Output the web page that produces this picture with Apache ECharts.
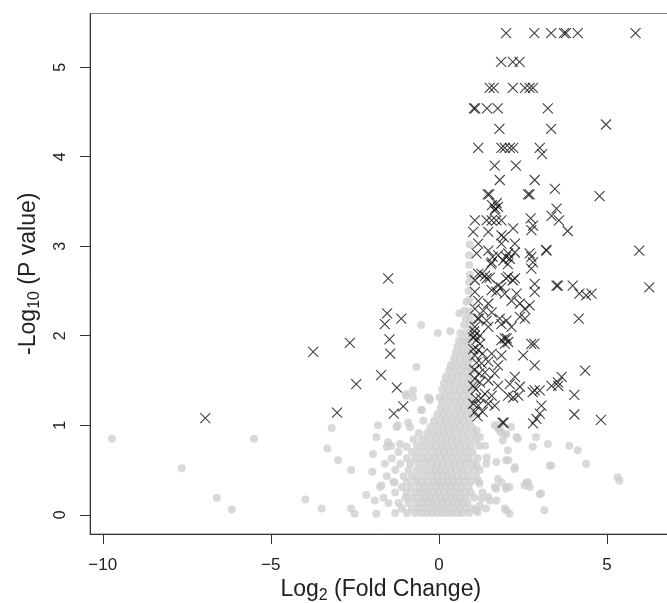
<!DOCTYPE html>
<html><head><meta charset="utf-8">
<script src="https://cdn.jsdelivr.net/npm/echarts@6/dist/echarts.min.js"></script>
<style>html,body{margin:0;padding:0;background:#fff}#c{width:667px;height:603px}</style>
</head><body><div id="c"></div>
<script>
const xTicks = [-10, -5, 0, 5];
const yTicks = [0, 1, 2, 3, 4, 5];
const xRange = [-10.38, 6.92];
const yRange = [-0.215, 5.6];

// not significant genes (grey dots): [log2FC, -log10 p]
const grayPoints = [
[-9.73,0.85],[-7.65,0.52],[-6.61,0.19],[-6.16,0.06],[-5.5,0.85],[-3.97,0.17],[-3.49,0.07],[-3.32,0.74],[-3.19,0.97],[-3.0,0.61],[-2.61,0.5],[-2.61,0.07],[-2.51,0.01],[-2.16,0.22],[-1.96,0.68],[-1.98,0.48],[-1.91,0.16],[-1.86,0.01],[-1.86,0.87],[-1.81,1.0],[-1.71,0.33],[-1.61,0.57],[-1.42,0.77],[-1.32,0.36],[-1.22,1.0],[-0.92,1.03],[-0.77,1.39],[-0.98,1.33],[-0.67,1.65],[-0.53,1.17],[-0.53,2.12],[-0.28,1.30],[0.02,1.31],[-0.03,2.03],[0.34,2.05],[0.61,2.25],[0.76,2.28],
[2.0,0.61],[2.25,0.51],[2.65,0.36],[2.7,0.31],[3.04,0.24],[2.0,0.29],[2.1,0.31],[1.7,0.29],[1.46,0.2],[2.0,0.05],[2.1,0.01],[3.14,0.05],[1.11,0.05],[1.21,0.10],[3.34,0.55],[4.38,0.57],[3.88,0.77],[4.13,0.72],[3.24,0.79],[2.79,0.76],[2.89,0.87],[2.35,0.85],[2.05,0.72],[1.9,0.83],[1.85,0.92],[2.0,0.9],[1.8,1.0],[2.15,0.98],[5.32,0.42],[5.37,0.38],[1.21,0.35],[1.41,0.57],[2.55,0.33],[1.75,0.97],
[2.31,0.87],[2.06,0.61],[2.26,0.53],[3.3,0.55],[2.61,0.36],[3.0,0.23],[1.96,0.07],[1.71,0.16],[2.01,0.31],[1.66,1.0],[1.96,0.9],[1.81,0.94],[1.22,0.87],
[-1.3,0.02],[-0.95,0.02],[-0.7,0.02],[-0.5,0.02],[-0.35,0.02],[-0.2,0.02],[-0.05,0.02],[0.1,0.02],[0.25,0.02],[0.4,0.02],[0.55,0.02],[0.7,0.02],[0.9,0.02],[1.15,0.03],
[-1.1,0.07],[-0.8,0.07],[-0.6,0.07],[-0.42,0.07],[-0.28,0.07],[-0.12,0.07],[0.02,0.07],[0.18,0.07],[0.33,0.07],[0.48,0.07],[0.62,0.07],[0.8,0.07],[1.0,0.07],[1.4,0.07],
[-1.5,0.13],[-1.2,0.13],[-0.9,0.13],[-0.65,0.13],[-0.5,0.13],[-0.35,0.13],[-0.2,0.13],[-0.05,0.13],[0.1,0.13],[0.25,0.13],[0.4,0.13],[0.55,0.13],[0.7,0.13],[0.85,0.13],[1.27,0.18],
[-1.65,0.19],[-1.0,0.19],[-0.78,0.19],[-0.55,0.19],[-0.4,0.19],[-0.25,0.19],[-0.1,0.19],[0.05,0.19],[0.2,0.19],[0.35,0.19],[0.5,0.19],[0.65,0.19],[0.8,0.19],[1.05,0.19],[1.52,0.16],
[-1.3,0.25],[-0.95,0.25],[-0.7,0.25],[-0.52,0.25],[-0.35,0.25],[-0.18,0.25],[-0.02,0.25],[0.15,0.25],[0.3,0.25],[0.45,0.25],[0.6,0.25],[0.78,0.25],[0.95,0.25],[1.3,0.25],
[-1.75,0.31],[-1.1,0.31],[-0.85,0.31],[-0.6,0.31],[-0.45,0.31],[-0.28,0.31],[-0.1,0.31],[0.05,0.31],[0.2,0.31],[0.35,0.31],[0.52,0.31],[0.68,0.31],[0.88,0.31],[1.66,0.31],
[-1.35,0.37],[-0.95,0.37],[-0.7,0.37],[-0.5,0.37],[-0.32,0.37],[-0.15,0.37],[0.0,0.37],[0.12,0.37],[0.28,0.37],[0.42,0.37],[0.58,0.37],[0.75,0.37],[0.95,0.37],[1.17,0.38],[1.76,0.40],[1.86,0.36],
[-1.55,0.43],[-1.05,0.43],[-0.8,0.43],[-0.6,0.43],[-0.38,0.43],[-0.2,0.43],[-0.05,0.43],[0.1,0.43],[0.25,0.43],[0.4,0.43],[0.55,0.43],[0.72,0.43],[0.9,0.43],[1.1,0.43],
[-1.3,0.5],[-0.9,0.5],[-0.65,0.5],[-0.45,0.5],[-0.25,0.5],[-0.1,0.5],[0.05,0.5],[0.2,0.5],[0.35,0.5],[0.5,0.5],[0.68,0.5],[0.85,0.5],[1.05,0.5],[1.22,0.5],
[-1.15,0.57],[-0.85,0.57],[-0.6,0.57],[-0.4,0.57],[-0.22,0.57],[-0.05,0.57],[0.12,0.57],[0.3,0.57],[0.45,0.57],[0.62,0.57],[0.8,0.57],[1.0,0.57],[1.12,0.55],[1.71,0.59],
[-1.4,0.63],[-0.95,0.63],[-0.7,0.63],[-0.5,0.63],[-0.3,0.63],[-0.12,0.63],[0.05,0.63],[0.2,0.63],[0.38,0.63],[0.55,0.63],[0.72,0.63],[0.9,0.63],[1.15,0.63],[1.42,0.64],
[-1.2,0.7],[-0.8,0.7],[-0.6,0.7],[-0.4,0.7],[-0.2,0.7],[-0.02,0.7],[0.15,0.7],[0.3,0.7],[0.48,0.7],[0.65,0.7],[0.82,0.7],[1.0,0.7],
[-0.96,0.76],[-0.65,0.77],[-0.45,0.77],[-0.25,0.77],[-0.08,0.77],[0.1,0.77],[0.25,0.77],[0.42,0.77],[0.6,0.77],[0.78,0.77],[0.95,0.77],[1.2,0.77],[1.37,0.77],[-1.16,0.79],[-1.51,0.81],[-1.55,0.76],
[-0.75,0.84],[-0.5,0.84],[-0.3,0.84],[-0.1,0.84],[0.05,0.84],[0.22,0.84],[0.38,0.84],[0.55,0.84],[0.72,0.84],[0.9,0.84],[1.1,0.84],
[-0.6,0.91],[-0.35,0.91],[-0.18,0.91],[0.0,0.91],[0.15,0.91],[0.32,0.91],[0.5,0.91],[0.68,0.91],[0.85,0.91],[1.05,0.91],[1.12,0.94],[-1.26,0.98],[-0.86,0.98],
[-0.25,0.98],[-0.05,0.98],[0.12,0.98],[0.28,0.98],[0.45,0.98],[0.62,0.98],[0.8,0.98],[0.98,0.98],[-0.46,1.05],
[-0.15,1.05],[0.05,1.05],[0.2,1.05],[0.38,1.05],[0.55,1.05],[0.72,1.05],[0.9,1.05],
[-0.05,1.12],[0.12,1.12],[0.3,1.12],[0.48,1.12],[0.65,1.12],[0.82,1.12],[0.98,1.12],[-0.51,1.17],
[0.05,1.19],[0.22,1.19],[0.4,1.19],[0.58,1.19],[0.75,1.19],[0.92,1.19],
[-0.27,1.28],[0.1,1.26],[0.3,1.26],[0.48,1.26],[0.65,1.26],[0.82,1.26],[0.98,1.26],
[-0.32,1.31],[0.18,1.33],[0.35,1.33],[0.55,1.33],[0.72,1.33],[0.9,1.33],[-0.77,1.31],[-0.96,1.35],
[0.1,1.40],[0.28,1.40],[0.45,1.40],[0.62,1.40],[0.8,1.40],[0.95,1.40],
[0.15,1.47],[0.32,1.47],[0.5,1.47],[0.68,1.47],[0.85,1.47],[0.98,1.5],
[0.2,1.54],[0.38,1.54],[0.55,1.54],[0.72,1.54],[0.9,1.54],
[0.3,1.61],[0.48,1.61],[0.65,1.61],[0.82,1.61],[0.98,1.61],
[0.35,1.67],[0.52,1.67],[0.7,1.67],[0.88,1.67],
[0.45,1.74],[0.62,1.74],[0.8,1.74],[0.95,1.74],
[0.5,1.81],[0.68,1.81],[0.85,1.81],[0.98,1.84],
[0.55,1.88],[0.72,1.88],[0.9,1.88],
[0.6,1.95],[0.74,1.95],[0.88,1.95],[0.98,1.97],
[0.64,2.03],[0.82,2.03],[0.95,2.05],
[0.75,2.12],[0.92,2.12],[0.8,2.19],[0.92,2.19],[0.9,2.27],[0.82,2.38],[0.9,2.4],[0.88,2.5],[0.9,2.6],[0.92,2.68],[0.9,2.79],[0.9,2.9],[0.92,3.02]
];

// significant genes (crosses): [log2FC, -log10 p]
const crossPoints = [
[2.0,5.38],[2.84,5.38],[3.34,5.38],[3.72,5.38],[3.78,5.38],[4.13,5.38],[5.85,5.38],
[1.85,5.06],[2.2,5.06],[2.4,5.06],
[1.51,4.77],[1.63,4.77],[2.2,4.77],[2.56,4.77],[2.7,4.77],[2.8,4.77],
[1.04,4.54],[1.08,4.54],[1.43,4.54],[1.75,4.54],[3.24,4.54],
[1.8,4.31],[3.34,4.31],[4.97,4.36],
[1.17,4.1],[1.86,4.1],[1.96,4.1],[2.11,4.1],[2.21,4.1],[3.0,4.1],[3.07,4.03],
[1.66,3.9],[2.29,3.9],
[1.81,3.74],[2.85,3.74],[3.45,3.64],
[1.45,3.58],[1.5,3.58],[2.65,3.58],[2.7,3.58],[4.78,3.56],
[1.58,3.46],[1.68,3.42],[1.76,3.44],[1.66,3.4],[1.72,3.48],
[3.5,3.42],[3.35,3.34],[3.57,3.29],
[1.07,3.29],[1.42,3.29],[1.57,3.29],[1.71,3.29],[1.86,3.29],[2.73,3.31],
[1.02,3.16],[1.47,3.16],[1.86,3.12],[1.93,3.1],[2.21,3.2],[2.75,3.18],[2.8,3.23],[3.83,3.17],
[1.17,3.03],[1.86,3.03],[2.26,3.03],[3.19,2.96],[5.96,2.95],
[1.12,2.92],[1.47,2.95],[1.76,2.9],[2.06,2.92],[2.26,2.93],[2.0,2.88],[1.6,2.88],
[2.75,2.88],[2.8,2.82],[3.2,2.95],[2.7,2.92],
[1.57,2.82],[1.91,2.84],[2.11,2.86],[2.05,2.8],[1.55,2.8],
[2.75,2.75],
[1.17,2.69],[1.27,2.69],[1.37,2.67],[1.51,2.65],
[1.07,2.62],[1.42,2.64],[2.0,2.64],[2.2,2.62],
[2.06,2.66],[2.26,2.64],
[1.76,2.56],[1.86,2.54],[2.85,2.58],[3.5,2.56],[3.54,2.56],[3.98,2.56],[4.18,2.47],[4.38,2.45],[4.54,2.47],[6.26,2.54],
[1.07,2.49],[1.57,2.51],[1.71,2.49],[1.96,2.47],[2.31,2.47],[2.85,2.49],
[1.17,2.39],[1.47,2.36],[2.16,2.39],[2.41,2.36],[2.7,2.34],
[1.07,2.3],[1.32,2.28],[1.57,2.26],[2.56,2.3],
[1.15,2.19],[1.19,2.19],[1.42,2.17],[1.81,2.19],[2.01,2.17],[2.41,2.21],[2.56,2.19],[4.16,2.19],
[1.07,2.1],[1.47,2.1],[1.86,2.13],[2.16,2.1],[1.05,2.05],
[1.07,2.0],[1.22,2.0],[1.96,1.97],[2.02,1.97],
[1.02,1.98],[1.12,1.95],[1.22,1.91],
[1.86,1.95],[1.96,1.91],[2.06,1.93],
[2.75,1.91],[2.84,1.91],
[1.02,1.85],[1.17,1.84],[1.3,1.8],
[1.07,1.78],[1.57,1.8],[1.86,1.78],
[2.51,1.78],[2.85,1.67],
[1.27,1.69],[1.47,1.71],[1.76,1.67],[1.12,1.7],
[1.37,1.59],[1.66,1.58],[1.05,1.62],[1.2,1.58],
[1.07,1.52],[1.22,1.48],[1.47,1.5],[2.26,1.54],
[1.02,1.44],[1.76,1.44],[2.11,1.46],[2.41,1.43],[1.1,1.4],
[2.85,1.39],[3.0,1.39],[3.35,1.44],[3.55,1.44],[3.65,1.54],[3.54,1.48],[2.79,1.37],[4.35,1.61],[4.03,1.34],
[1.37,1.35],[1.57,1.33],[2.06,1.33],[2.21,1.31],[2.36,1.33],[1.25,1.3],[1.1,1.3],
[1.02,1.24],[1.17,1.22],[1.47,1.24],[1.66,1.22],
[1.07,1.15],[3.05,1.22],[1.15,1.1],[1.3,1.15],
[3.0,1.13],[2.9,1.07],[4.03,1.12],[4.82,1.06],
[1.89,1.03],[1.93,1.03],[2.8,1.02],
[-6.95,1.08],[-3.74,1.82],[-2.65,1.92],[-2.46,1.46],[-3.03,1.14],
[-1.51,2.64],[-1.54,2.25],[-1.61,2.13],[-1.12,2.19],[-1.47,1.96],[-1.45,1.8],[-1.72,1.56],[-1.25,1.42],[-1.06,1.21],[-1.34,1.13]
];

const FONT = '"Liberation Sans", Arial, Helvetica, sans-serif';
const fmt = v => String(v).replace('-', '\u2212');
const chart = echarts.init(document.getElementById('c'), null, {renderer: 'canvas'});
chart.setOption({
  animation: false,
  grid: {left: 90, top: 13.5, width: 581.5, height: 520.5, outerBoundsMode: 'none', containLabel: false,
    show: true, borderColor: '#808080', borderWidth: 1, backgroundColor: 'transparent'},
  xAxis: {
    type: 'value', min: xRange[0], max: xRange[1],
    splitLine: {show: false},
    axisLine: {show: true, onZero: false, lineStyle: {color: '#333', width: 1}},
    axisTick: {show: true, length: 10, customValues: xTicks, lineStyle: {color: '#333', width: 1}},
    axisLabel: {customValues: xTicks, formatter: fmt, fontSize: 17, color: '#222', margin: 23, fontFamily: FONT},
    name: 'Log{s|2} (Fold Change)', nameLocation: 'middle', nameGap: 42, nameMoveOverlap: false,
    nameTextStyle: {fontSize: 23, lineHeight: 28, color: '#222', fontFamily: FONT,
      rich: {s: {fontSize: 16, lineHeight: 12, verticalAlign: 'bottom', color: '#222', fontFamily: FONT}}}
  },
  yAxis: {
    type: 'value', min: yRange[0], max: yRange[1],
    splitLine: {show: false},
    axisLine: {show: true, onZero: false, lineStyle: {color: '#333', width: 1}},
    axisTick: {show: true, length: 10, customValues: yTicks, lineStyle: {color: '#333', width: 1}},
    axisLabel: {customValues: yTicks, formatter: fmt, rotate: 90, fontSize: 16, color: '#222', margin: 21, fontFamily: FONT},
    name: '-Log{s|10} (P value)', nameLocation: 'middle', nameRotate: 90, nameGap: 47,
    nameTextStyle: {fontSize: 23, lineHeight: 28, color: '#222', fontFamily: FONT,
      rich: {s: {fontSize: 16, lineHeight: 12, verticalAlign: 'bottom', color: '#222', fontFamily: FONT}}}
  },
  series: [
    {type: 'scatter', data: grayPoints, symbol: 'circle', symbolSize: 8, itemStyle: {color: '#d0d0d0'}, silent: true, z: 1},
    {type: 'scatter', data: crossPoints, symbol: 'path://M0,0L10,10M10,0L0,10', symbolSize: 10,
      itemStyle: {color: 'none', borderColor: '#111', borderWidth: 1.1}, silent: true, z: 2}
  ]
});
</script></body></html>
